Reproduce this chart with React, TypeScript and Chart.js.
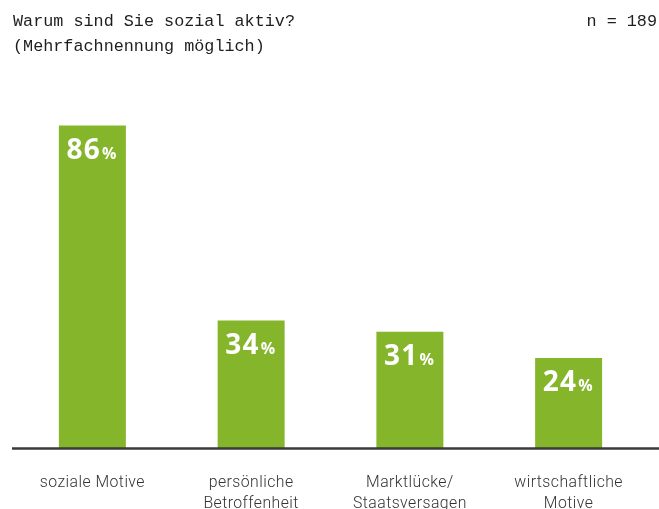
import React, { useEffect, useRef } from "react";
import { Chart, registerables } from "chart.js";

Chart.register(...registerables);

const categories: string[][] = [
  ["soziale Motive"],
  ["persönliche", "Betroffenheit"],
  ["Marktlücke/", "Staatsversagen"],
  ["wirtschaftliche", "Motive"],
];
const values: number[] = [86, 34, 31, 24];
const titleLines: string[] = ["Warum sind Sie sozial aktiv?", "(Mehrfachnennung möglich)"];
const sampleNote = "n = 189";

const GREEN = "#85b52a";

const overlayPlugin = {
  id: "overlay",
  beforeDraw(chart: any) {
    (chart.ctx as any).letterSpacing = "0.45px";
  },
  afterDatasetsDraw(chart: any) {
    const { ctx, chartArea } = chart;
    ctx.save();
    // baseline axis
    ctx.strokeStyle = "#3a3a3a";
    ctx.lineWidth = 2.5;
    ctx.beginPath();
    ctx.moveTo(12, chartArea.bottom + 0.5);
    ctx.lineTo(659, chartArea.bottom + 0.5);
    ctx.stroke();
    // value labels
    const meta = chart.getDatasetMeta(0);
    meta.data.forEach((bar: any, i: number) => {
      const num = String(values[i]);
      ctx.fillStyle = "#ffffff";
      ctx.textBaseline = "alphabetic";
      ctx.textAlign = "left";
      (ctx as any).letterSpacing = "1.2px";
      ctx.font = "bold 28px 'Open Sans', sans-serif";
      const w = ctx.measureText(num).width;
      (ctx as any).letterSpacing = "0px";
      ctx.font = "bold 16px 'Open Sans', sans-serif";
      const wp = ctx.measureText("%").width;
      const total = w + 1 + wp;
      const start = bar.x - total / 2 - 1;
      const baseY = bar.y + 33;
      (ctx as any).letterSpacing = "1.2px";
      ctx.font = "bold 28px 'Open Sans', sans-serif";
      ctx.fillText(num, start, baseY);
      (ctx as any).letterSpacing = "0px";
      ctx.font = "bold 16px 'Open Sans', sans-serif";
      ctx.fillText("%", start + w + 1, baseY);
    });
    // titles
    (ctx as any).letterSpacing = "0px";
    ctx.fillStyle = "#1e1e1e";
    ctx.font = "16.8px 'Liberation Mono', monospace";
    ctx.textAlign = "left";
    ctx.fillText(titleLines[0], 13, 26);
    ctx.fillText(titleLines[1], 13, 51);
    ctx.textAlign = "right";
    ctx.fillText(sampleNote, 657, 26);
    ctx.restore();
  },
};

export default function App() {
  const ref = useRef<HTMLCanvasElement | null>(null);
  useEffect(() => {
    if (!ref.current) return;
    const chart = new Chart(ref.current, {
      type: "bar",
      data: {
        labels: categories,
        datasets: [
          {
            data: values,
            backgroundColor: GREEN,
            categoryPercentage: 1,
            barPercentage: 0.422,
          },
        ],
      },
      options: {
        animation: false,
        responsive: false,
        devicePixelRatio: 1,
        layout: { padding: { left: 13, right: 11, top: 73, bottom: 0 } },
        plugins: { legend: { display: false }, tooltip: { enabled: false } },
        scales: {
          x: {
            grid: { display: false, drawTicks: false },
            border: { display: false },
            ticks: {
              color: "#333333",
              font: { family: "Roboto", size: 15.8, weight: 300 as any, lineHeight: 1.33 },
              padding: 25,
              maxRotation: 0,
              autoSkip: false,
            },
            afterFit(scale: any) {
              scale.height = 61;
            },
          },
          y: {
            display: false,
            min: 0,
            max: 100,
            afterFit(scale: any) {
              scale.width = 0;
            },
          },
        },
      },
      plugins: [overlayPlugin],
    });
    return () => chart.destroy();
  }, []);
  return (
    <div style={{ position: "fixed", left: 0, top: 0, width: 659, height: 509, background: "#fff" }}>
      <canvas ref={ref} width={659} height={509} style={{ width: 659, height: 509, display: "block" }} />
    </div>
  );
}
